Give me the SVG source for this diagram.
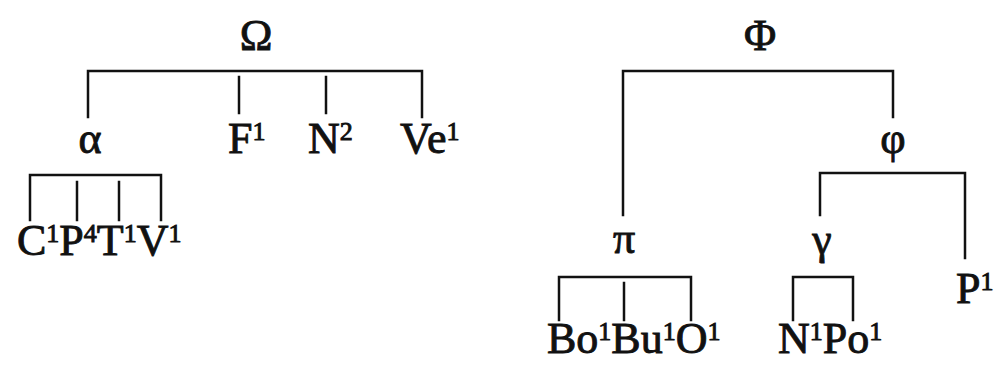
<svg xmlns="http://www.w3.org/2000/svg" width="996" height="366" viewBox="0 0 996 366">
<style>
.t{font-family:"Liberation Serif","DejaVu Serif",serif;font-size:44px;fill:#111;stroke:#111;stroke-width:0.9}
.s{font-size:26px}
.m{text-anchor:middle}
.c{fill:none;stroke:#111;stroke-width:2.5;stroke-linecap:square}
</style>
<rect width="996" height="366" fill="#fff"/>
<g id="connectors" class="c">
<path d="M88 117V71H422V117"/>
<path d="M239 77V113"/>
<path d="M326 77V113"/>
<path d="M30 220V175H161V220"/>
<path d="M77 182V220"/>
<path d="M119 182V220"/>
<path d="M623 215V71H893V117"/>
<path d="M820 215V173H965V258"/>
<path d="M559 320V277H691V320"/>
<path d="M624 283V320"/>
<path d="M793 320V277H853V320"/>
</g>
<g id="Omega"><text class="t m" x="256" y="50">Ω</text></g>
<g id="alpha"><text class="t m" x="90" y="153">α</text></g>
<g id="F1"><text class="t" x="228" y="153">F<tspan class="s" dy="-13">1</tspan></text></g>
<g id="N2"><text class="t" x="308" y="153">N<tspan class="s" dy="-13">2</tspan></text></g>
<g id="Ve1"><text class="t" x="400" y="153">Ve<tspan class="s" dy="-13">1</tspan></text></g>
<g id="CPTV"><text class="t" x="17" y="255">C<tspan class="s" dy="-13">1</tspan><tspan dy="13">P</tspan><tspan class="s" dy="-13">4</tspan><tspan dy="13">T</tspan><tspan class="s" dy="-13">1</tspan><tspan dy="13">V</tspan><tspan class="s" dy="-13">1</tspan></text></g>
<g id="Phi"><text class="t m" x="760" y="50">Φ</text></g>
<g id="phi"><text class="t m" x="893" y="153">φ</text></g>
<g id="pi"><text class="t m" x="624" y="253">π</text></g>
<g id="gamma"><text class="t m" x="822" y="254">γ</text></g>
<g id="P1"><text class="t" x="956" y="303">P<tspan class="s" dy="-13">1</tspan></text></g>
<g id="BoBuO"><text class="t" x="547" y="353">Bo<tspan class="s" dy="-13">1</tspan><tspan dy="13">Bu</tspan><tspan class="s" dy="-13">1</tspan><tspan dy="13">O</tspan><tspan class="s" dy="-13">1</tspan></text></g>
<g id="NPo"><text class="t" x="778" y="353">N<tspan class="s" dy="-13">1</tspan><tspan dy="13">Po</tspan><tspan class="s" dy="-13">1</tspan></text></g>
</svg>
